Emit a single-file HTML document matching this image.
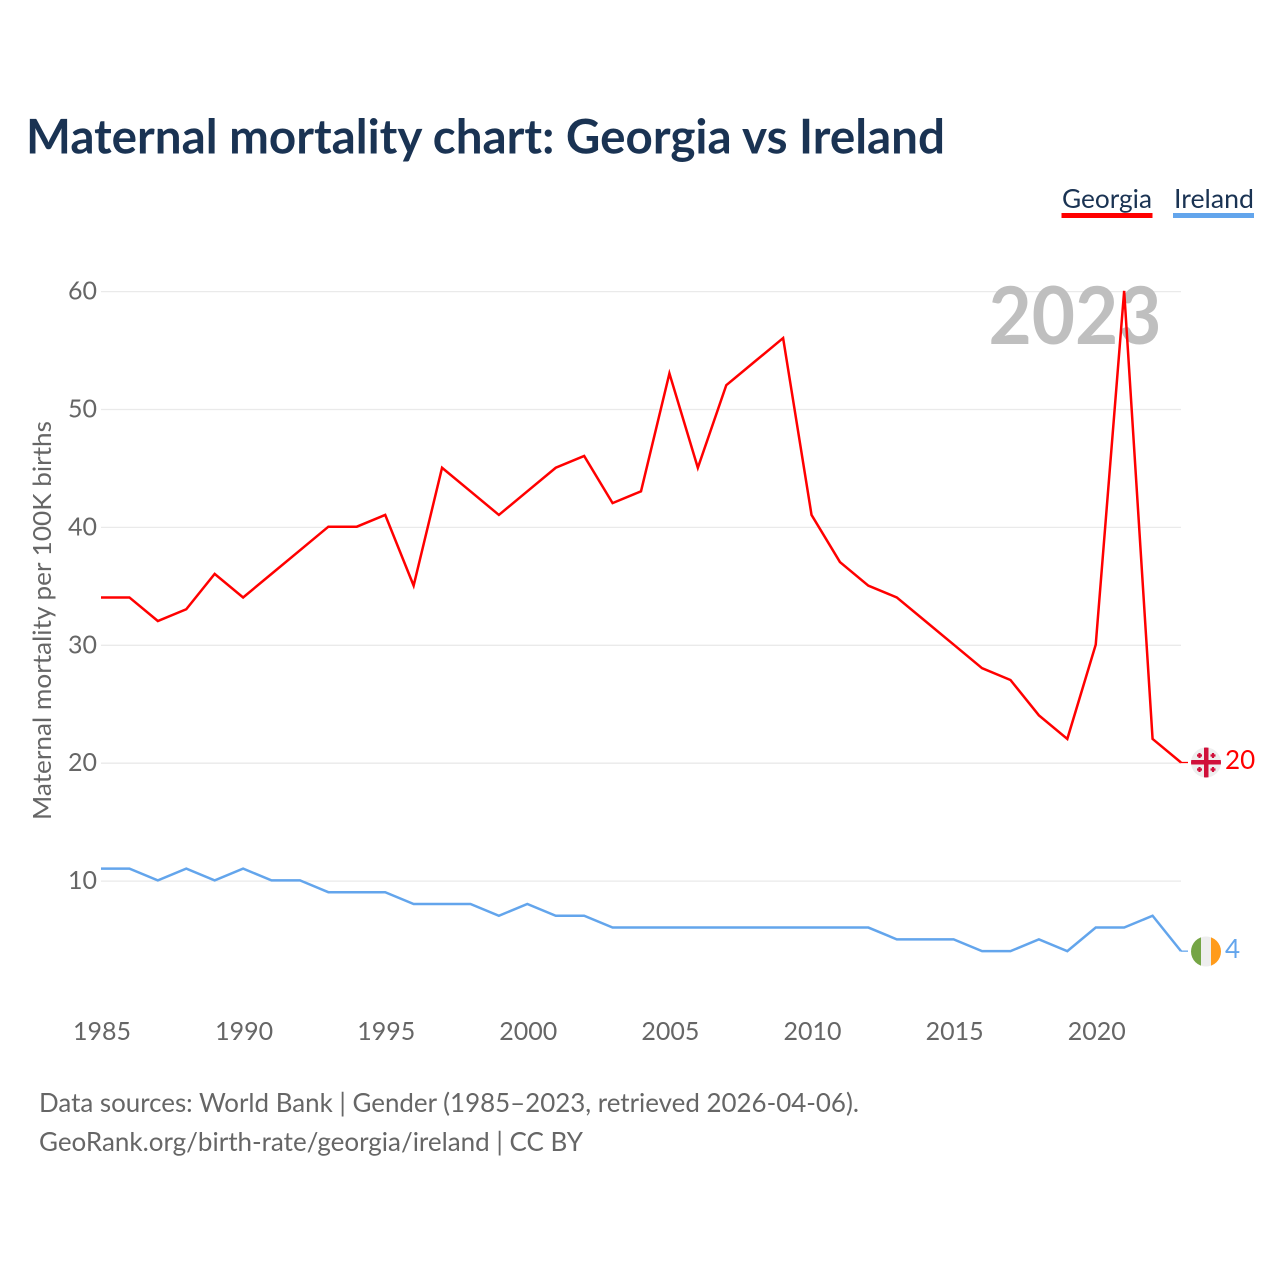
<!DOCTYPE html>
<html lang="en">
<head>
<meta charset="utf-8">
<title>Maternal mortality chart: Georgia vs Ireland</title>
<style>
html,body{margin:0;padding:0;background:#fff;width:1280px;height:1280px;overflow:hidden}
svg{display:block}
text{font-family:Lato,Carlito,"Liberation Sans",sans-serif}
</style>
</head>
<body>
<svg id="chart" xmlns="http://www.w3.org/2000/svg" width="1280" height="1280" viewBox="0 0 1280 1280">
  <defs>
    <clipPath id="clip-ge"><circle cx="1206" cy="762.5" r="15"/></clipPath>
    <clipPath id="clip-ie"><circle cx="1206" cy="951.5" r="15"/></clipPath>
  </defs>
  <rect x="0" y="0" width="1280" height="1280" fill="#fff"/>
  <text x="26" y="153.5" font-size="48" font-weight="700" fill="#1a3353" textLength="919" lengthAdjust="spacingAndGlyphs">Maternal mortality chart: Georgia vs Ireland</text>

  <g>
    <text x="1062" y="208" font-size="26.5" fill="#1a3353" textLength="90" lengthAdjust="spacingAndGlyphs">Georgia</text>
    <rect x="1061.5" y="213" width="91" height="5" fill="#ff0000"/>
    <text x="1174" y="208" font-size="26.5" fill="#1a3353" textLength="80" lengthAdjust="spacingAndGlyphs">Ireland</text>
    <rect x="1173" y="213" width="81" height="5" fill="#63a5ec"/>
  </g>

  <g id="grid"></g>
  <text x="988.5" y="344" font-size="80" font-weight="700" fill="#bfbfbf" textLength="173" lengthAdjust="spacingAndGlyphs">2023</text>
  <g id="y-axis"></g>
  <g id="x-axis"></g>
  <text transform="translate(51,820) rotate(-90)" font-size="25.5" fill="#666" textLength="399" lengthAdjust="spacingAndGlyphs">Maternal mortality per 100K births</text>

  <g id="series"></g>

  <g clip-path="url(#clip-ge)">
    <rect x="1191" y="747" width="30" height="31" fill="#eeeeee"/>
    <rect x="1204" y="747" width="4.5" height="31" fill="#d0103a"/>
    <rect x="1191" y="760" width="30" height="4.5" fill="#d0103a"/>
    <path d="M1197 754.4h5v2.2h-5zM1198.4 753h2.2v5h-2.2zM1210.5 754.4h5v2.2h-5zM1211.9 753h2.2v5h-2.2zM1197 768.4h5v2.2h-5zM1198.4 767h2.2v5h-2.2zM1210.5 768.4h5v2.2h-5zM1211.9 767h2.2v5h-2.2z" fill="#d0103a"/>
  </g>
  <g clip-path="url(#clip-ie)">
    <rect x="1191" y="936" width="10" height="31" fill="#75a545"/>
    <rect x="1201" y="936" width="10" height="31" fill="#eeeeee"/>
    <rect x="1211" y="936" width="10" height="31" fill="#ff9b1a"/>
  </g>
  <text id="end-georgia" x="1225" y="769" font-size="26" fill="#ff0000"></text>
  <text id="end-ireland" x="1225" y="958" font-size="26" fill="#63a5ec"></text>

  <text x="39" y="1112" font-size="26" fill="#666" textLength="820" lengthAdjust="spacingAndGlyphs">Data sources: World Bank | Gender (1985–2023, retrieved 2026-04-06).</text>
  <text x="39" y="1151" font-size="26" fill="#666" textLength="544" lengthAdjust="spacingAndGlyphs">GeoRank.org/birth-rate/georgia/ireland | CC BY</text>
</svg>
<script>
const years = [1985,1986,1987,1988,1989,1990,1991,1992,1993,1994,1995,1996,1997,1998,1999,2000,2001,2002,2003,2004,2005,2006,2007,2008,2009,2010,2011,2012,2013,2014,2015,2016,2017,2018,2019,2020,2021,2022,2023];
const georgia = [34,34,32,33,36,34,36,38,40,40,41,35,45,43,41,43,45,46,42,43,53,45,52,54,56,41,37,35,34,32,30,28,27,24,22,30,60,22,20];
const ireland = [11,11,10,11,10,11,10,10,9,9,9,8,8,8,7,8,7,7,6,6,6,6,6,6,6,6,6,6,5,5,5,4,4,5,4,6,6,7,4];
const yTicks = [10,20,30,40,50,60];
const xTicks = [1985,1990,1995,2000,2005,2010,2015,2020];

const NS = 'http://www.w3.org/2000/svg';
const plot = {left:101, right:1181, yZero:999, yUnit:11.79, leaderEnd:1188, lineShift:-0.7};
function xScale(year){
  const first = years[0], last = years[years.length-1];
  return plot.left + (year-first)/(last-first)*(plot.right-plot.left);
}
function yScale(v){ return plot.yZero - v*plot.yUnit; }
function make(tag, parent){
  const el = document.createElementNS(NS, tag);
  parent.appendChild(el);
  return el;
}

const gridG = document.getElementById('grid');
const yG = document.getElementById('y-axis');
yTicks.forEach(function(t){
  const line = make('line', gridG);
  
  
  line.setAttribute('x1', plot.left);
  line.setAttribute('x2', plot.right);
  line.setAttribute('y1', yScale(t));
  line.setAttribute('y2', yScale(t));
  line.setAttribute('stroke', '#eaeaea');
  line.setAttribute('stroke-width', '1.3');
  const label = make('text', yG);
  
  
  label.setAttribute('x', plot.left - 4);
  label.setAttribute('y', yScale(t) + 8);
  label.setAttribute('text-anchor', 'end');
  label.setAttribute('font-size', '25');
  label.setAttribute('fill', '#666');
  label.textContent = t;
});

const xG = document.getElementById('x-axis');
xTicks.forEach(function(t){
  const label = make('text', xG);
  
  
  label.setAttribute('x', xScale(t) + 1);
  label.setAttribute('y', 1040);
  label.setAttribute('text-anchor', 'middle');
  label.setAttribute('font-size', '25');
  label.setAttribute('fill', '#666');
  label.textContent = t;
});

const seriesG = document.getElementById('series');
function drawSeries(values, color, name){
  const pts = values.map(function(v,i){ return xScale(years[i]).toFixed(2) + ',' + (yScale(v) + plot.lineShift).toFixed(2); });
  const lastY = yScale(values[values.length-1]) + plot.lineShift;
  const leader = make('line', seriesG);
  
  
  leader.setAttribute('x1', plot.right);
  leader.setAttribute('x2', plot.leaderEnd);
  leader.setAttribute('y1', lastY);
  leader.setAttribute('y2', lastY);
  leader.setAttribute('stroke', color);
  leader.setAttribute('stroke-width', '1.3');
  const line = make('polyline', seriesG);
  
  
  line.setAttribute('points', pts.join(' '));
  line.setAttribute('fill', 'none');
  line.setAttribute('stroke', color);
  line.setAttribute('stroke-width', '2.5');
  line.setAttribute('stroke-linejoin', 'miter');
}
drawSeries(ireland, '#63a5ec', 'ireland');
drawSeries(georgia, '#ff0000', 'georgia');

document.getElementById('end-georgia').textContent = georgia[georgia.length-1];
document.getElementById('end-ireland').textContent = ireland[ireland.length-1];
</script>
</body>
</html>
